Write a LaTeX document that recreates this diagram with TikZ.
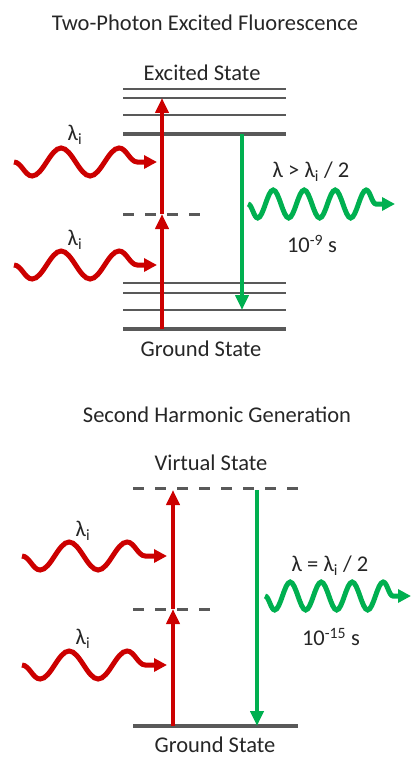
\documentclass[tikz,border=0pt]{standalone}
\usepackage{fontspec}
\setmainfont{Carlito}
\usetikzlibrary{arrows.meta, decorations.pathmorphing}
\definecolor{cred}{HTML}{CC0000}
\definecolor{cgreen}{HTML}{00B050}
\definecolor{cgrey}{HTML}{595959}
\definecolor{ctext}{HTML}{262626}
\tikzset{
  every picture/.style={font=\fontsize{22.5}{27}\selectfont},
  label/.style={text=ctext, inner sep=0pt},
  level/.style={draw=cgrey, line width=2.7pt},
  thick level/.style={draw=cgrey, line width=4.5pt},
  virtual/.style={draw=cgrey, line width=3pt, dash pattern=on 11pt off 11pt},
  pump/.style={draw=cred, line width=4.5pt, -{Triangle[length=15pt, width=13pt]}},
  emit/.style={draw=cgreen, line width=4.5pt, -{Triangle[length=15pt, width=13pt]}},
  photon/.style={draw=#1, line width=5pt, -{Triangle[length=13pt, width=13pt]},
    decorate, decoration={snake, mirror, amplitude=14pt, segment length=58pt, post length=18pt}},
  photon/.default=cred,
  fast photon/.style={photon=cgreen, decoration={segment length=31pt, post length=18pt}},
}

\begin{document}
\begin{tikzpicture}[x=1pt, y=-1pt]
  \useasboundingbox (0,0) rectangle (411,757);
  % two-photon excited fluorescence
  \node[label] (title1) at (205,23) {Two-Photon Excited Fluorescence};
  \node[label] (excited) at (202,73) {Excited State};
  \node[label] (ground1) at (201,349) {Ground State};
  \foreach \y in {89,98,115,283,293,310}
    \draw[level] (123,\y) -- (286,\y);
  \foreach \y in {134,329}
    \draw[thick level] (123,\y) -- (286,\y);
  \draw[virtual] (123,214) -- (202,214);
  \coordinate (tg) at (162,329);
  \coordinate (tv) at (162,214);
  \coordinate (te) at (162,98);
  \coordinate (fe) at (242,134);
  \coordinate (fg) at (242,310);
  \draw[pump] (tv) -- (te);
  \draw[pump] (tg) -- (tv);
  \draw[emit] (fe) -- (fg);
  \coordinate (inA) at (14,162);
  \coordinate (inB) at (14,265);
  \draw[photon] (inA) -- (157,162);
  \draw[photon] (inB) -- (157,265);
  \node[label] (li1) at (75,135) {λ\textsubscript{i}};
  \node[label] (li2) at (75,240) {λ\textsubscript{i}};
  \coordinate (outA) at (248,204);
  \draw[fast photon] (outA) -- (395,204);
  \node[label] (lam1) at (311,172) {λ > λ\textsubscript{i} / 2};
  \node[label] (time1) at (312,244) {10\textsuperscript{-9} s};
  % second harmonic generation
  \node[label] (title2) at (217,415) {Second Harmonic Generation};
  \node[label] (virtual) at (211,463) {Virtual State};
  \node[label] (ground2) at (215,745) {Ground State};
  \draw[virtual] (133,488) -- (298,488);
  \draw[virtual] (133,609) -- (213,609);
  \draw[thick level] (133,726) -- (298,726);
  \coordinate (sg) at (173,726);
  \coordinate (sv) at (173,609);
  \coordinate (sx) at (173,490);
  \coordinate (hv) at (257,490);
  \coordinate (hg) at (257,726);
  \draw[pump] (sv) -- (sx);
  \draw[pump] (sg) -- (sv);
  \draw[emit] (hv) -- (hg);
  \coordinate (inC) at (22,556);
  \coordinate (inD) at (22,665);
  \draw[photon] (inC) -- (167,556);
  \draw[photon] (inD) -- (167,665);
  \node[label] (li3) at (83,531) {λ\textsubscript{i}};
  \node[label] (li4) at (83,639) {λ\textsubscript{i}};
  \coordinate (outB) at (265,596);
  \draw[fast photon] (outB) -- (411,596);
  \node[label] (lam2) at (330,566) {λ = λ\textsubscript{i} / 2};
  \node[label] (time2) at (331,637) {10\textsuperscript{-15} s};
\end{tikzpicture}
\end{document}
